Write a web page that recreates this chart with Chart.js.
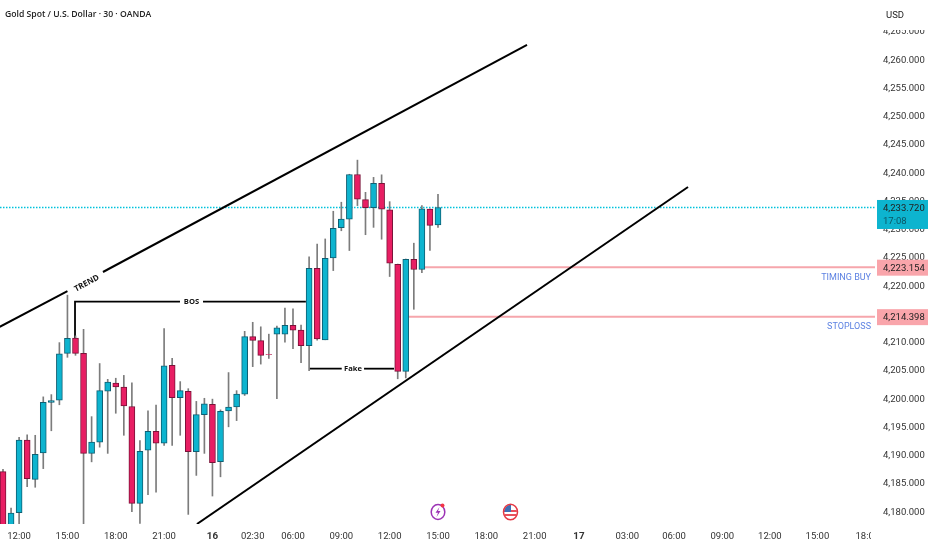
<!DOCTYPE html>
<html>
<head>
<meta charset="utf-8">
<title>Gold Spot / U.S. Dollar</title>
<script src="https://cdn.jsdelivr.net/npm/chart.js@4"></script>
<style>
	html, body { margin: 0; padding: 0; background: #fff; }
	canvas { display: block; }
</style>
</head>
<body>
<canvas id="gold-chart" width="932" height="550"></canvas>
<script>
// 30 minute candles
var opens = [4186.96,4174.0,4179.70,4192.56,4185.60,4190.26,4199.23,4199.60,4207.90,4210.60,4207.90,4190.20,4192.20,4201.20,4202.65,4201.95,4198.50,4181.35,4190.75,4194.10,4192.00,4205.80,4200.05,4201.20,4190.50,4197.05,4198.90,4188.75,4197.70,4198.40,4200.70,4210.85,4210.15,4207.75,4211.30,4211.30,4212.85,4212.00,4209.25,4222.95,4210.30,4224.80,4230.15,4231.65,4239.55,4235.10,4233.70,4238.00,4233.30,4223.65,4204.70,4224.55,4222.75,4233.45,4230.65];
var closes = [4174.0,4179.65,4192.56,4185.72,4190.03,4199.23,4199.53,4207.80,4210.56,4207.90,4190.20,4192.20,4201.30,4202.80,4201.95,4198.60,4181.35,4190.55,4194.10,4192.00,4205.70,4200.05,4201.30,4190.50,4197.05,4198.95,4188.55,4197.65,4198.40,4200.70,4210.85,4210.20,4207.55,4207.70,4212.40,4212.85,4212.00,4209.25,4222.95,4210.45,4224.70,4230.05,4231.65,4239.55,4235.20,4233.70,4238.00,4233.40,4223.85,4204.70,4224.55,4222.75,4233.50,4230.55,4233.72];
var highs = [4187.38,4180.53,4193.03,4193.50,4193.40,4200.20,4200.60,4209.80,4218.20,4211.00,4212.15,4196.70,4206.10,4203.30,4203.50,4204.00,4202.70,4192.45,4197.75,4198.75,4212.30,4207.00,4202.90,4201.65,4199.40,4199.95,4199.80,4197.90,4204.50,4201.30,4211.80,4213.40,4212.60,4211.30,4212.75,4215.90,4215.80,4212.90,4225.00,4227.25,4228.15,4233.05,4234.65,4239.60,4242.10,4236.40,4239.05,4239.50,4234.75,4223.70,4224.60,4227.40,4234.05,4233.50,4236.05];
var lows = [4172.0,4172.0,4176.0,4184.30,4184.20,4187.50,4194.20,4198.80,4207.20,4207.55,4176.50,4188.70,4191.30,4190.20,4197.30,4193.40,4179.90,4177.80,4182.90,4183.35,4191.60,4191.60,4193.40,4179.40,4186.30,4190.20,4182.65,4186.05,4194.90,4196.00,4200.45,4205.55,4206.00,4207.00,4199.90,4209.90,4208.75,4206.25,4204.85,4210.25,4210.30,4222.55,4229.60,4226.10,4234.05,4228.90,4230.20,4228.10,4221.50,4203.40,4203.55,4215.70,4222.20,4226.10,4230.20];

// axis labels
var yTicks = [4180,4185,4190,4195,4200,4205,4210,4215,4220,4225,4230,4235,4240,4245,4250,4255,4260,4265];
var xTickLabels = ['12:00','15:00','18:00','21:00','16','02:30','06:00','09:00','12:00','15:00','18:00','21:00','17','03:00','06:00','09:00','12:00','15:00','18:00'];
var xTickSlots = [2,8,14,20,26,31,36,42,48,54,60,66,71.5,77.5,83.3,89.3,95.2,101.1,107.3];

// price levels
var lastPrice = 4233.72;
var timingBuy = 4223.154;
var stopLoss = 4214.398;

// drawings, [candle slot, price]
var trendUpperA = [[-0.4,4212.6],[8.0,4218.9]];
var trendUpperB = [[12.41,4222.3],[65.05,4262.48]];
var trendLower = [[24.08,4177.7],[85.04,4237.35]];
var bosLeft = [[8.94,4210.62],[8.94,4217.04],[21.97,4217.04]];
var bosRight = [[24.83,4217.04],[37.6,4217.04]];
var fakeLeft = [[37.99,4205.19],[42.05,4205.19]];
var fakeRight = [[44.82,4205.19],[48.54,4205.19]];

var xMin = -0.372, xMax = 108.25;
var yMin = 4177.7, yMax = 4270.44;

var BLUE = '#0db4cf', RED = '#e81e63';
var slots = opens.map(function (o, i) { return i; });

function pts(list) {
	return list.map(function (p) { return {x: p[0], y: p[1]}; });
}
function fmt(v) {
	return v.toLocaleString('en-US', {minimumFractionDigits: 3, maximumFractionDigits: 3});
}
function lineSet(list, color, width, dash) {
	return {
		type: 'line',
		data: pts(list),
		borderColor: color,
		borderWidth: width,
		borderDash: dash || [],
		pointRadius: 0,
		tension: 0,
		order: 5
	};
}
// no extra room for the outer labels, the plot runs edge to edge
function noPadding(scale) {
	scale.paddingTop = scale.paddingBottom = scale.paddingLeft = scale.paddingRight = 0;
}

var overlay = {
	id: 'overlay',
	afterDraw: function (chart) {
		var c = chart.ctx, x = chart.scales.x, y = chart.scales.y;
		var axisX = 883;
		c.save();

		// text on the drawings
		c.fillStyle = '#111';
		c.font = '700 7.6px "Open Sans"';
		c.textAlign = 'center';
		c.textBaseline = 'middle';
		c.fillText('BOS', x.getPixelForValue(23.4), y.getPixelForValue(4217.04));
		c.fillText('Fake', x.getPixelForValue(43.45), y.getPixelForValue(4205.19));
		c.save();
		c.translate(x.getPixelForValue(10.4), y.getPixelForValue(4220.3));
		c.rotate(-0.49);
		c.font = '700 8px "Open Sans"';
		c.fillText('TREND', 0, 0);
		c.restore();

		// level names
		c.font = '9px Roboto';
		c.fillStyle = '#5d82e2';
		c.textAlign = 'right';
		c.fillText('TIMING BUY', 871, y.getPixelForValue(timingBuy) + 10.5);
		c.fillText('STOPLOSS', 871, y.getPixelForValue(stopLoss) + 10.5);

		// title
		c.font = '600 8.65px "Open Sans"';
		c.fillStyle = '#222';
		c.textAlign = 'left';
		c.fillText('Gold Spot / U.S. Dollar \u00b7 30 \u00b7 OANDA', 5, 15);

		// top of the price axis
		c.fillStyle = '#fff';
		c.fillRect(876, 0, 56, 30);
		c.fillStyle = '#222';
		c.font = '9.5px Roboto';
		c.fillText('USD', 886, 16);

		// last x label is cut off by the price axis
		c.fillStyle = '#fff';
		c.fillRect(871, 526, 61, 24);

		// price boxes
		function box(val, h, color, text) {
			var py = y.getPixelForValue(val);
			c.fillStyle = color;
			c.fillRect(877, py - 7.5, 51, h);
			c.fillStyle = '#222';
			c.fillText(text, axisX, py + 1.2);
		}
		c.font = '9.5px Roboto';
		box(timingBuy, 16, '#f9a5ab', fmt(timingBuy));
		box(stopLoss, 16, '#f9a5ab', fmt(stopLoss));
		box(lastPrice, 29, BLUE, fmt(lastPrice));
		c.fillStyle = '#0b5563';
		c.fillText('17:08', axisX, y.getPixelForValue(lastPrice) + 14.5);

		// event icons under the candles
		c.lineWidth = 1.5;
		c.strokeStyle = '#9c33b5';
		c.beginPath();
		c.ellipse(438, 512, 6.8, 7.4, 0, 0, Math.PI * 2);
		c.stroke();
		c.fillStyle = '#9c33b5';
		c.beginPath();
		c.moveTo(439.5, 507);
		c.lineTo(435.5, 512.8);
		c.lineTo(438, 512.8);
		c.lineTo(436.5, 517);
		c.lineTo(440.5, 511);
		c.lineTo(438, 511);
		c.closePath();
		c.fill();
		c.fillStyle = '#f23645';
		c.beginPath();
		c.arc(442.5, 505.5, 2, 0, Math.PI * 2);
		c.fill();

		c.save();
		c.beginPath();
		c.ellipse(510.5, 512, 6.5, 7.2, 0, 0, Math.PI * 2);
		c.clip();
		c.fillStyle = '#fff';
		c.fillRect(503, 504, 16, 16);
		c.fillStyle = '#e8505b';
		c.fillRect(503, 510, 16, 2);
		c.fillRect(503, 514, 16, 2);
		c.fillStyle = '#3f6fb5';
		c.fillRect(503, 504, 8, 8);
		c.restore();
		c.strokeStyle = '#e53945';
		c.beginPath();
		c.ellipse(510.5, 512, 7, 7.7, 0, 0, Math.PI * 2);
		c.stroke();

		c.restore();
	}
};

new Chart('gold-chart', {
	type: 'bar',
	data: {
		datasets: [
			{
				data: slots.map(function (i) { return {x: i, y: [opens[i], closes[i]]}; }),
				backgroundColor: slots.map(function (i) { return closes[i] >= opens[i] ? BLUE : RED; }),
				borderColor: slots.map(function (i) { return closes[i] >= opens[i] ? '#0e5f73' : '#7a1238'; }),
				borderWidth: 1,
				borderSkipped: false,
				barThickness: 6,
				grouped: false,
				order: 1
			},
			{
				data: slots.map(function (i) { return {x: i, y: [lows[i], highs[i]]}; }),
				backgroundColor: '#7c7c7c',
				borderWidth: 0,
				barThickness: 1,
				grouped: false,
				order: 2
			},
			lineSet(trendUpperA, '#000', 2),
			lineSet(trendUpperB, '#000', 2),
			lineSet(trendLower, '#000', 2),
			lineSet(bosLeft, '#000', 1.8),
			lineSet(bosRight, '#000', 1.8),
			lineSet(fakeLeft, '#000', 1.8),
			lineSet(fakeRight, '#000', 1.8),
			lineSet([[xMin, lastPrice], [xMax, lastPrice]], '#00c2dc', 1.3, [1.5, 1.5]),
			lineSet([[52, timingBuy], [xMax, timingBuy]], '#f6a6ac', 2),
			lineSet([[50.4, stopLoss], [xMax, stopLoss]], '#f6a6ac', 2)
		]
	},
	options: {
		responsive: false,
		animation: false,
		layout: {padding: 0},
		plugins: {
			legend: {display: false},
			title: {display: false},
			tooltip: {enabled: false}
		},
		scales: {
			x: {
				type: 'linear',
				min: xMin,
				max: xMax,
				offset: false,
				grid: {display: false, drawTicks: false},
				border: {display: false},
				afterBuildTicks: function (scale) {
					scale.ticks = xTickSlots.map(function (v) { return {value: v}; });
				},
				afterFit: function (scale) { scale.height = 26; noPadding(scale); },
				ticks: {
					autoSkip: false,
					maxRotation: 0,
					padding: 7,
					color: '#333',
					font: function (ctx) {
						var t = xTickLabels[ctx.index];
						return t && t.length == 2 ? {family: 'Roboto', size: 9.8, weight: '700'} : {family: 'Roboto', size: 9.5};
					},
					callback: function (v, i) { return xTickLabels[i]; }
				}
			},
			y: {
				position: 'right',
				min: yMin,
				max: yMax,
				grid: {display: false, drawTicks: false},
				border: {display: false},
				afterBuildTicks: function (scale) {
					scale.ticks = yTicks.map(function (v) { return {value: v}; });
				},
				afterFit: function (scale) { scale.width = 57; noPadding(scale); },
				ticks: {
					autoSkip: false,
					padding: 8,
					labelOffset: 1.2,
					color: '#333',
					font: {family: 'Roboto', size: 9.5},
					callback: function (v) { return fmt(v); }
				}
			}
		}
	},
	plugins: [overlay]
});
</script>
</body>
</html>
